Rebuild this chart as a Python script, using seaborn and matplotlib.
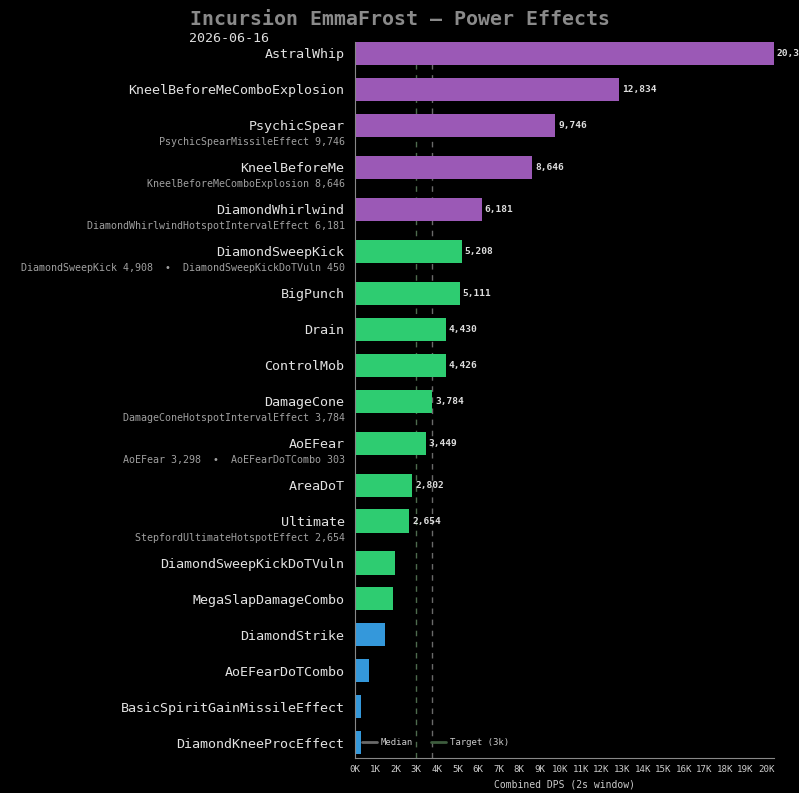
import numpy as np
import pandas as pd
import seaborn as sns
import matplotlib.pyplot as plt
import matplotlib.transforms as mtransforms
from matplotlib.lines import Line2D

# Datos del gráfico
efectos = ["AstralWhip", "KneelBeforeMeComboExplosion", "PsychicSpear", "KneelBeforeMe",
           "DiamondWhirlwind", "DiamondSweepKick", "BigPunch", "Drain", "ControlMob",
           "DamageCone", "AoEFear", "AreaDoT", "Ultimate", "DiamondSweepKickDoTVuln",
           "MegaSlapDamageCombo", "DiamondStrike", "AoEFearDoTCombo",
           "BasicSpiritGainMissileEffect", "DiamondKneeProcEffect"]
dps = [20380, 12834, 9746, 8646, 6181, 5208, 5111, 4430, 4426, 3784, 3449, 2802, 2654,
       1946, 1849, 1460, 681, 292, 292]
nivel = ["alto"] * 5 + ["medio"] * 10 + ["bajo"] * 4
subetiquetas = ["", "", "PsychicSpearMissileEffect 9,746", "KneelBeforeMeComboExplosion 8,646",
                "DiamondWhirlwindHotspotIntervalEffect 6,181",
                "DiamondSweepKick 4,908  \u2022  DiamondSweepKickDoTVuln 450",
                "", "", "", "DamageConeHotspotIntervalEffect 3,784",
                "AoEFear 3,298  \u2022  AoEFearDoTCombo 303", "",
                "StepfordUltimateHotspotEffect 2,654", "", "", "", "", "", ""]
objetivo = 3000
colores = {"alto": "#9b59b6", "medio": "#2ecc71", "bajo": "#3498db"}

# Posiciones: las filas con subetiqueta dejan más espacio
pos = [0.0]
for s in subetiquetas[:-1]:
    pos.append(pos[-1] + (42 / 36 if s else 1.0))

df = pd.DataFrame({"efecto": efectos, "dps": dps, "nivel": nivel, "pos": pos})
mediana = np.median(dps)

sns.set_theme(style="dark", rc={"axes.facecolor": "black", "figure.facecolor": "black"})
plt.rcParams["font.family"] = ["DejaVu Sans Mono", "DejaVu Sans"]

fig = plt.figure(figsize=(7.99, 7.93), dpi=100)
ax = fig.add_axes([0.4437, 0.0441, 0.9687 - 0.4437, 0.947 - 0.0441])

ax.axvline(objetivo, color="#4d6b4d", linestyle=(0, (4, 4)), linewidth=1, zorder=0)
ax.axvline(mediana, color="#6a6a6a", linestyle=(0, (4, 4)), linewidth=1, zorder=0)

sns.barplot(data=df, x="dps", y="pos", hue="nivel", palette=colores, orient="h",
            native_scale=True, width=0.64, dodge=False, legend=False, saturation=1,
            edgecolor="none", linewidth=0, ax=ax, zorder=2)

ax.set_xlim(0, max(dps))
ax.set_ylim(pos[-1] + 0.42, pos[0] - 0.31)

ax.set_yticks(pos)
ax.set_yticklabels(efectos, fontsize=9.6, color="#e2e2e2")
ax.tick_params(axis="y", length=0, pad=7.2)
ticks = np.arange(0, 21000, 1000)
ax.set_xticks(ticks)
ax.set_xticklabels([f"{int(t/1000)}K" for t in ticks], fontsize=6.6, color="#cccccc")
ax.tick_params(axis="x", length=3, width=0.8, color="#888888", pad=2)
ax.set_xlabel("Combined DPS (2s window)", fontsize=7, color="#cccccc", labelpad=4)
ax.set_ylabel("")
for lado in ["top", "right"]:
    ax.spines[lado].set_visible(False)
for lado in ["left", "bottom"]:
    ax.spines[lado].set_color("#888888")
    ax.spines[lado].set_linewidth(0.8)

# Valores al final de las barras
for v, p in zip(dps, pos):
    if v >= 2000:
        ax.annotate(f"{v:,}", (v, p), xytext=(3, 0), textcoords="offset pixels",
                    va="center", ha="left", fontsize=6.8, fontweight="bold",
                    color="#dddddd", annotation_clip=False)

# Subetiquetas debajo de cada nombre
trans = mtransforms.blended_transform_factory(ax.transAxes, ax.transData)
for s, p in zip(subetiquetas, pos):
    if s:
        ax.annotate(s, (0, p), xycoords=trans, xytext=(-10, -17), textcoords="offset pixels",
                    ha="right", va="center", fontsize=7.2, color="#a0a0a0",
                    annotation_clip=False)

# Leyenda
handles = [Line2D([], [], color="#6a6a6a", linewidth=2),
           Line2D([], [], color="#3d5c3d", linewidth=2)]
leg = ax.legend(handles, ["Median", "Target (3k)"], loc="center left", ncol=2,
                frameon=False, fontsize=6.5, labelcolor="#cccccc", handlelength=1.6,
                handletextpad=0.5, columnspacing=2.0, borderpad=0, borderaxespad=0,
                bbox_to_anchor=(0.018, 0.021))

fig.suptitle("Incursion EmmaFrost \u2014 Power Effects", x=0.5, y=0.975, va="center",
             fontsize=14.3, fontweight="bold", color="#8a8a8a")
fig.text(189 / 799, 1 - 38 / 793, "2026-06-16", ha="left", va="center",
         fontsize=9.6, color="#dddddd")

plt.savefig("out.png", dpi=100, facecolor="black")
